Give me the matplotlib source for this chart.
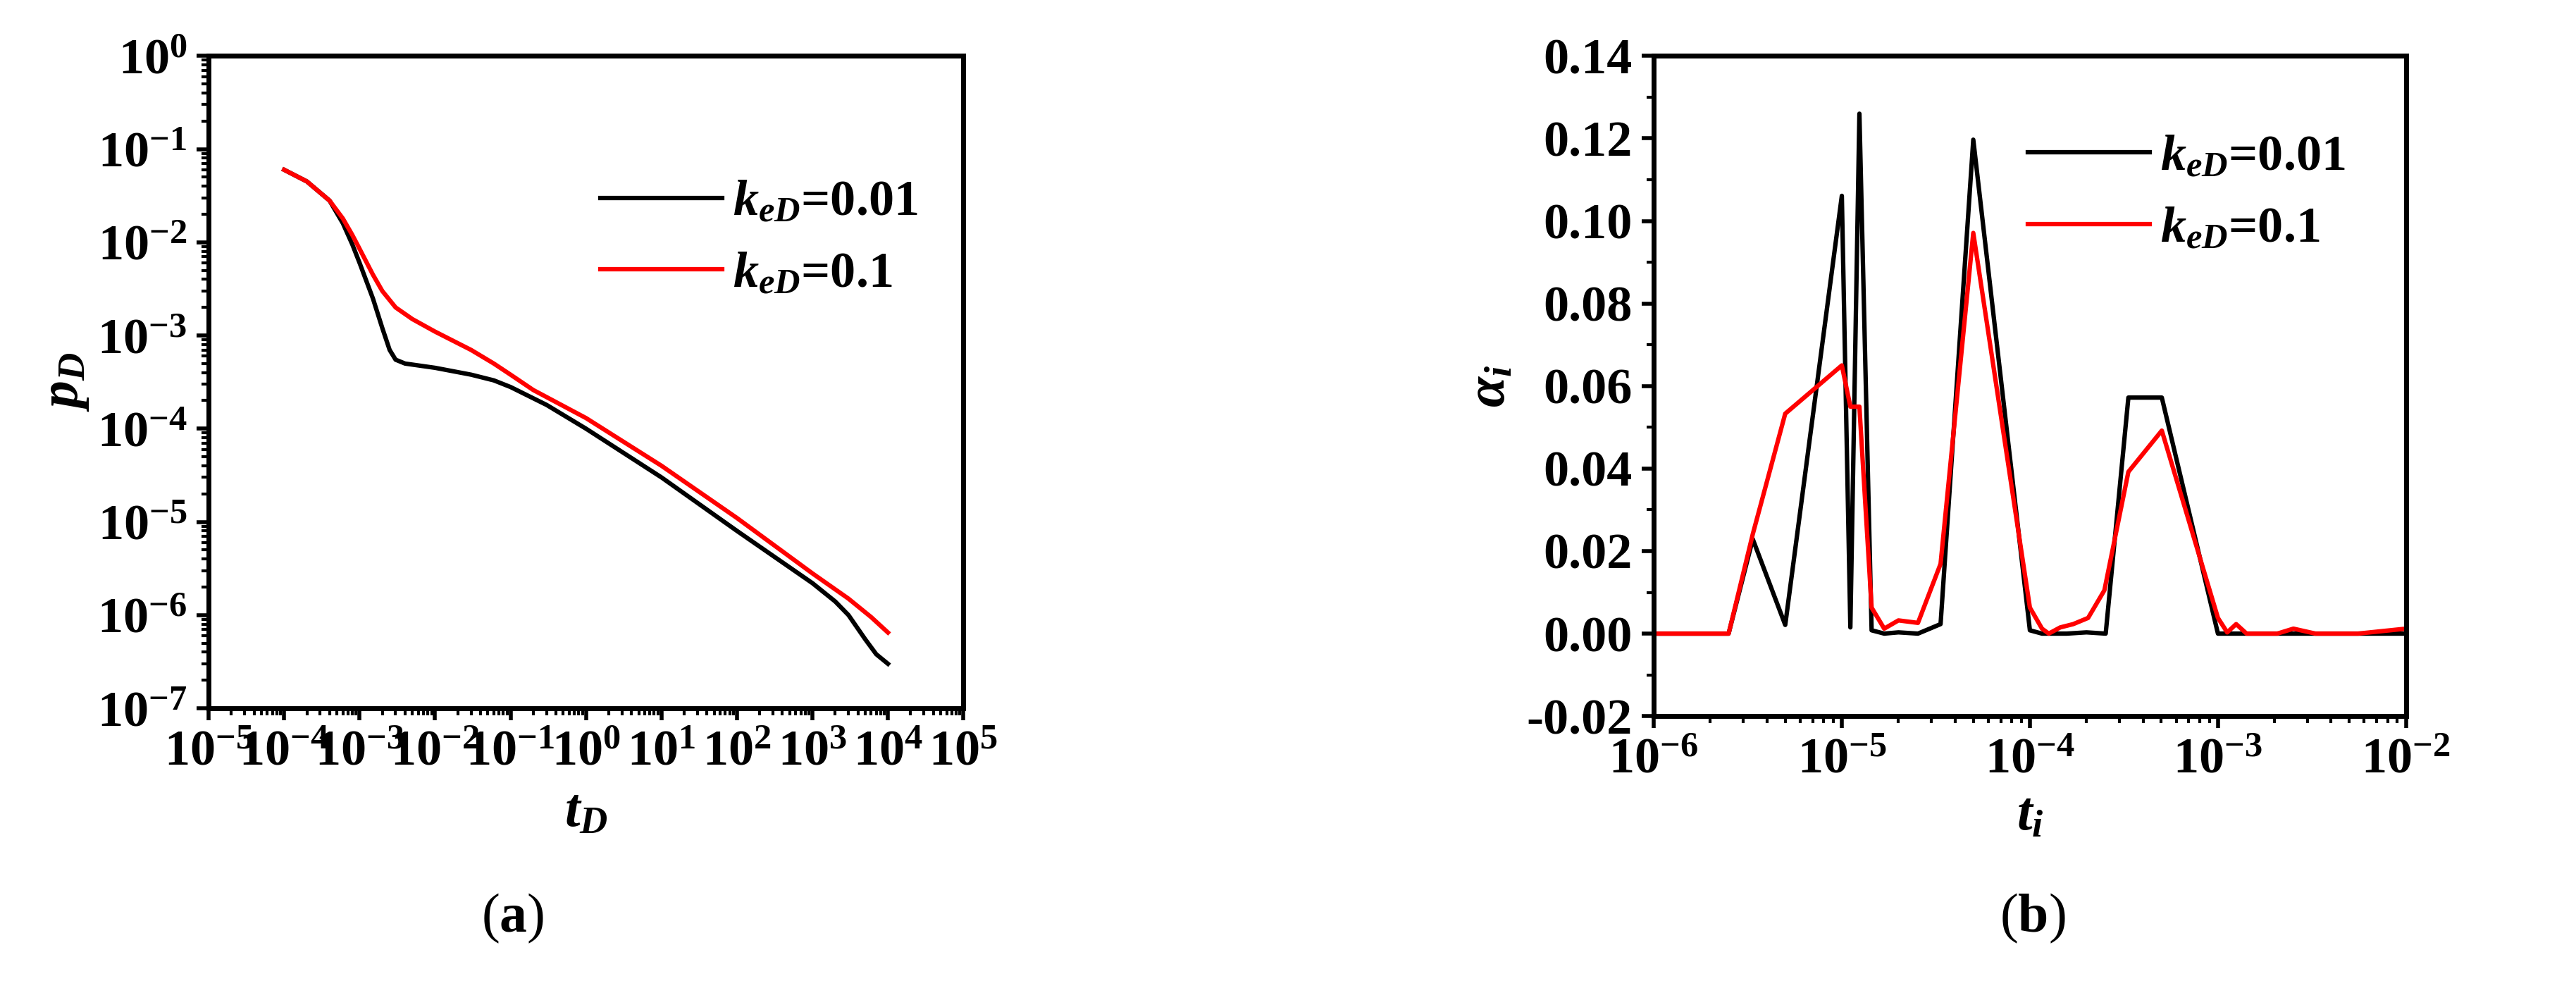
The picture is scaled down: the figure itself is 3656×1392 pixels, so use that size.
import matplotlib
matplotlib.use("Agg")
import matplotlib.pyplot as plt
from matplotlib.ticker import LogLocator, MultipleLocator, NullFormatter, FuncFormatter

plt.rcParams['font.family'] = ['Liberation Serif', 'DejaVu Serif']
plt.rcParams['font.weight'] = 'bold'
plt.rcParams['mathtext.fontset'] = 'custom'
plt.rcParams['mathtext.rm'] = 'Liberation Serif:bold'
plt.rcParams['mathtext.it'] = 'Liberation Serif:italic:bold'
plt.rcParams['mathtext.bf'] = 'Liberation Serif:bold'

# Panel (a)
tD_black = [1e-4, 2e-4, 4e-4, 6e-4, 8e-4, 1e-3, 1.5e-3, 2e-3, 2.5e-3, 3e-3, 4e-3, 1e-2, 3e-2, 6e-2, 1e-1, 0.3,
            1, 10, 100, 1000, 2000, 3000, 5000, 7000, 1e4]
pD_black = [0.06, 0.045, 0.028, 0.016, 0.0095, 0.006, 0.0025, 0.0012, 0.0007, 0.00055, 0.0005, 0.00045, 0.00038,
            0.00033, 0.00028, 0.00018, 1e-4, 3e-5, 8e-6, 2.2e-6, 1.4e-6, 1.0e-6, 5.5e-7, 3.8e-7, 3e-7]
tD_red = [1e-4, 2e-4, 4e-4, 6e-4, 8e-4, 1e-3, 1.5e-3, 2e-3, 3e-3, 5e-3, 1e-2, 3e-2, 6e-2, 0.1, 0.2,
          1, 10, 100, 1000, 3000, 6000, 1e4]
pD_red = [0.06, 0.045, 0.028, 0.018, 0.012, 0.0085, 0.0045, 0.003, 0.002, 0.0015, 0.0011, 0.0007, 0.0005,
          0.00038, 0.00026, 0.00013, 4e-5, 1.1e-5, 2.8e-6, 1.5e-6, 9.5e-7, 6.5e-7]

# Panel (b)
ti_black = [1e-6, 2.5e-6, 3.36e-6, 5e-6, 1e-5, 1.11e-5, 1.24e-5, 1.44e-5, 1.68e-5, 2e-5, 2.54e-5, 3.35e-5, 5e-5,
            1e-4, 1.16e-4, 1.57e-4, 2e-4, 2.53e-4, 3.34e-4, 5.03e-4, 1e-3, 1.23e-3, 1e-2]
ai_black = [0, 0, 0.0229, 0.0021, 0.1061, 0.0015, 0.1260, 0.0008, 0, 0.0003, 0, 0.0023, 0.1197,
            0.0008, 0, 0, 0.0003, 0, 0.0572, 0.0572, 0, 0, 0]
ti_red = [1e-6, 2.5e-6, 3.36e-6, 5e-6, 1e-5, 1.11e-5, 1.24e-5, 1.44e-5, 1.68e-5, 2e-5, 2.54e-5, 3.35e-5, 5e-5,
          1e-4, 1.16e-4, 1.26e-4, 1.45e-4, 1.7e-4, 2.04e-4, 2.49e-4, 3.34e-4, 5.03e-4, 1e-3, 1.12e-3, 1.25e-3,
          1.42e-3, 2.07e-3, 2.52e-3, 3.3e-3, 5.56e-3, 1e-2]
ai_red = [0, 0, 0.0241, 0.0533, 0.0650, 0.0550, 0.0550, 0.0063, 0.0012, 0.0032, 0.0026, 0.0169, 0.0971,
          0.0063, 0.0012, 0, 0.0015, 0.0023, 0.0038, 0.0105, 0.0392, 0.0492, 0.0038, 0.0003, 0.0023,
          0, 0, 0.0012, 0, 0, 0.0012]

labels = [r'$k_{eD}$=0.01', r'$k_{eD}$=0.1']

fig = plt.figure(figsize=(36.56, 13.92), dpi=100)
axA = fig.add_axes([0.081, 0.278, 0.293, 0.665])
axB = fig.add_axes([0.642, 0.270, 0.292, 0.673])

FS = 52
for ax in (axA, axB):
    for s in ax.spines.values():
        s.set_linewidth(5)
    ax.tick_params(which='major', direction='out', length=12, width=4, labelsize=FS, pad=10)
    ax.tick_params(which='minor', direction='out', length=7, width=3)

axA.plot(tD_black, pD_black, color='black', lw=4.5, label=labels[0])
axA.plot(tD_red, pD_red, color='red', lw=4.5, label=labels[1])
axA.set_xscale('log'); axA.set_yscale('log')
axA.set_xlim(1e-5, 1e5); axA.set_ylim(1e-7, 1)
axA.xaxis.set_major_locator(LogLocator(base=10, numticks=20))
axA.xaxis.set_minor_locator(LogLocator(base=10, subs=range(2, 10), numticks=100))
axA.xaxis.set_minor_formatter(NullFormatter())
axA.yaxis.set_major_locator(LogLocator(base=10, numticks=20))
axA.yaxis.set_minor_locator(LogLocator(base=10, subs=range(2, 10), numticks=100))
axA.yaxis.set_minor_formatter(NullFormatter())
axA.set_xlabel(r'$t_D$', fontsize=FS + 4, labelpad=12)
axA.set_ylabel(r'$p_D$', fontsize=FS + 4, labelpad=6)
axA.legend(loc='upper right', bbox_to_anchor=(1.0, 0.88), frameon=False, fontsize=FS, handlelength=2.4,
           handletextpad=0.2, labelspacing=0.5)

axB.plot(ti_black, ai_black, color='black', lw=4.5, label=labels[0])
axB.plot(ti_red, ai_red, color='red', lw=4.5, label=labels[1])
axB.set_xscale('log')
axB.set_xlim(1e-6, 1e-2); axB.set_ylim(-0.02, 0.14)
axB.xaxis.set_major_locator(LogLocator(base=10, numticks=20))
axB.xaxis.set_minor_locator(LogLocator(base=10, subs=range(2, 10), numticks=100))
axB.xaxis.set_minor_formatter(NullFormatter())
axB.yaxis.set_major_locator(MultipleLocator(0.02))
axB.yaxis.set_minor_locator(MultipleLocator(0.01))
axB.yaxis.set_major_formatter(FuncFormatter(lambda v, p: f'{v:.2f}'.replace('-0.00', '0.00')))
axB.set_xlabel(r'$t_i$', fontsize=FS + 4, labelpad=8)
axB.set_ylabel(r'$\alpha_i$', fontsize=FS + 4, labelpad=10)
axB.legend(loc='upper right', bbox_to_anchor=(0.98, 0.95), frameon=False, fontsize=FS, handlelength=2.4,
           handletextpad=0.2, labelspacing=0.5)

fig.text(0.199, 0.05, r'($\mathbf{a}$)', fontsize=FS + 4, fontweight='normal', ha='center')
fig.text(0.789, 0.05, r'($\mathbf{b}$)', fontsize=FS + 4, fontweight='normal', ha='center')

fig.savefig('out.png', dpi=100)
